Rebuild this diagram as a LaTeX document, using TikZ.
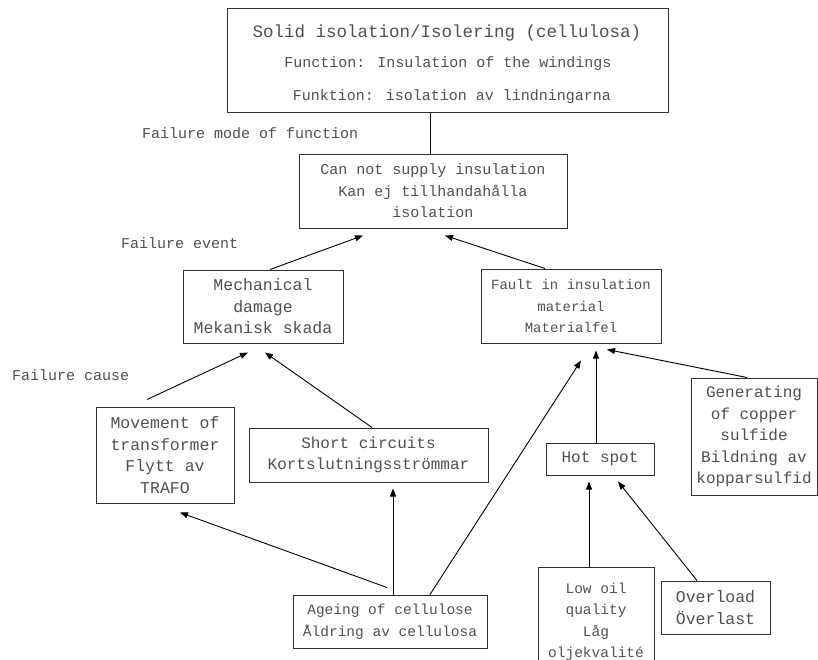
\documentclass[tikz,border=0pt]{standalone}
\usepackage{fontspec}
\setmainfont{Liberation Mono}
\usetikzlibrary{calc,arrows.meta}
\newcommand\fsz[1]{\fontsize{#1}{21.5}\selectfont}
\definecolor{txtgray}{HTML}{505050}
\definecolor{linegray}{HTML}{303030}
\begin{document}
\begin{tikzpicture}[x=1pt,y=-1pt,
  box/.style={draw=linegray,line width=1pt,rectangle,inner sep=2pt,align=center,text=txtgray},
  lbl/.style={anchor=west,inner sep=0pt,text=txtgray,font=\fsz{15}},
  ttext/.style={inner sep=0pt,text=txtgray},
  conn/.style={draw=black,line width=0.9pt},
  arr/.style={conn,-{Triangle[length=8pt,width=6pt]}}]
\useasboundingbox (0,0) rectangle (818,659);
\fill[white] (0,0) rectangle (818,659);
\clip (0,0) rectangle (818,659);
% top box
\node[box,minimum width=441,minimum height=104] (top) at (447.5,60) {};
\node[ttext,font=\fsz{17.5}] (t1) at (447,33) {Solid isolation/Isolering (cellulosa)};
\node[ttext,font=\fsz{15}] (t2) at (448,64) {Function: Insulation of the windings};
\node[ttext,font=\fsz{15}] (t3) at (452,97) {Funktion: isolation av lindningarna};
% boxes
\node[box,minimum width=268,minimum height=74,font=\fsz{15}] (cannot) at (433,191)
  {Can not supply insulation\\Kan ej tillhandahålla\\isolation};
\node[box,minimum width=160,minimum height=73,font=\fsz{16.5}] (mech) at (263,306.5)
  {Mechanical\\damage\\Mekanisk skada};
\node[box,minimum width=180,minimum height=74,font=\fsz{14}] (fault) at (571,306)
  {Fault in insulation\\material\\Materialfel};
\node[box,minimum width=138,minimum height=96,font=\fsz{16.5}] (move) at (165,455)
  {Movement of\\transformer\\Flytt av\\TRAFO};
\node[box,minimum width=239,minimum height=54,font=\fsz{16}] (short) at (368.5,455)
  {Short circuits\\Kortslutningsströmmar};
\node[box,minimum width=108,minimum height=32,font=\fsz{16}] (hot) at (600,459)
  {Hot spot};
\node[box,minimum width=126,minimum height=117,font=\fsz{16}] (gen) at (754,436.5)
  {Generating\\of copper\\sulfide\\Bildning av\\kopparsulfid};
\node[box,minimum width=194,minimum height=53,font=\fsz{14.5}] (age) at (390,621.5)
  {Ageing of cellulose\\Åldring av cellulosa};
\node[box,minimum width=116,minimum height=106,font=\fsz{14.5},text depth=0pt] (oil) at (596,620)
  {Low oil\\quality\\Låg\\oljekvalité};
\node[box,minimum width=109,minimum height=53,font=\fsz{16.5}] (over) at (715.5,607.5)
  {Overload\\Överlast};
% labels
\node[lbl] (l1) at (142,133) {Failure mode of function};
\node[lbl] (l2) at (121,243) {Failure event};
\node[lbl] (l3) at (12,375) {Failure cause};
% connectors
\draw[conn] (top.south -| 430,0) -- (cannot.north -| 430,0);
\draw[arr] ($(mech.north)+(7,0)$) -- ($(cannot.south)+(-70,7)$);
\draw[arr] ($(fault.north)+(-26,0)$) -- ($(cannot.south)+(12,7)$);
\draw[arr] ($(move.north)+(-18,-7)$) -- ($(mech.south)+(-15,9)$);
\draw[arr] ($(short.north)+(3.5,0)$) -- ($(mech.south)+(2,9)$);
\draw[arr] ($(age.north)+(-3,-7)$) -- ($(move.south)+(15,9)$);
\draw[arr] ($(age.north)+(3,0)$) -- ($(short.south)+(24.5,6)$);
\draw[arr] ($(age.north)+(40,0)$) -- ($(fault.south)+(10,17)$);
\draw[arr] ($(hot.north)+(-4,0)$) -- ($(fault.south)+(25,7)$);
\draw[arr] ($(gen.north)+(-7,0)$) -- ($(fault.south)+(36,6)$);
\draw[arr] ($(oil.north)+(-7,0)$) -- ($(hot.south)+(-11,6)$);
\draw[arr] ($(over.north)+(-18.5,0)$) -- ($(hot.south)+(18,6)$);
\end{tikzpicture}
\end{document}
